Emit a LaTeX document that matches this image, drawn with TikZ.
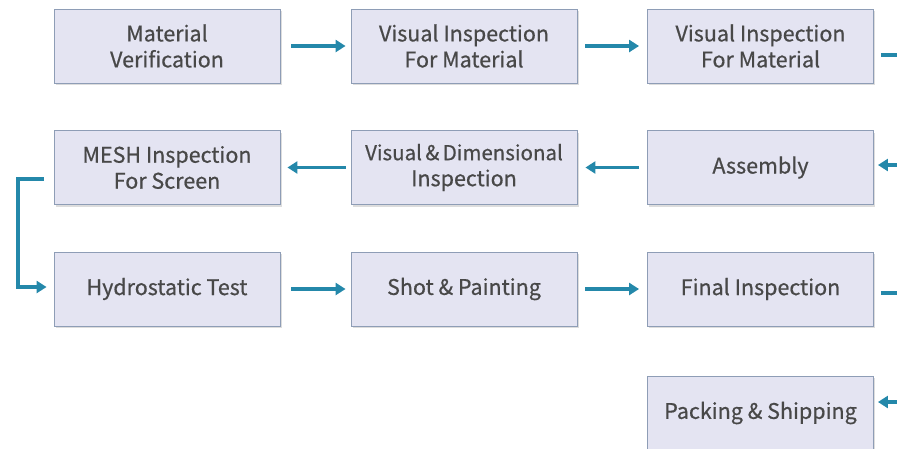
\documentclass[tikz,border=0pt]{standalone}
\usepackage{fontspec}
\setmainfont[FakeBold=0.6]{Noto Sans CJK KR}
\usetikzlibrary{shadows,arrows.meta,calc}
\definecolor{boxfill}{HTML}{E4E4F2}
\definecolor{boxline}{HTML}{8E9DB6}
\definecolor{arr}{HTML}{2488AA}
\definecolor{txt}{HTML}{484848}
\tikzset{
  stepbox/.style={draw=boxline, line width=0.9pt, fill=boxfill, minimum width=226pt, minimum height=74pt,
    inner sep=0pt, align=center, text=txt, font=\fontsize{21.5}{26}\selectfont,
    drop shadow={shadow xshift=1.5pt, shadow yshift=-2pt, opacity=0.22, fill=black!60}},
  flow/.style={draw=arr, line width=3.5pt, -{Triangle[length=10pt,width=12pt]}},
  flowline/.style={draw=arr, line width=3.5pt}
}
\begin{document}
\begin{tikzpicture}[x=1pt,y=-1pt]
\useasboundingbox (0,0) rectangle (897,448);
\begin{scope}
\clip (0,0) rectangle (897,448);
\node[stepbox] (a1) at (167,46) {Material\\Verification};
\node[stepbox] (a2) at (464,46) {Visual Inspection\\For Material};
\node[stepbox] (a3) at (760.5,46) {Visual Inspection\\For Material};
\node[stepbox] (b1) at (167,167.5) {MESH Inspection\\For Screen};
\node[stepbox] (b2) at (464,167.5) {\fontsize{20.5}{26}\selectfont Visual\,\&\,Dimensional\\Inspection};
\node[stepbox] (b3) at (760.5,167.5) {\raisebox{-2pt}{Assembly}};
\node[stepbox] (c1) at (167,289) {\raisebox{-2pt}{Hydrostatic Test}};
\node[stepbox] (c2) at (464,289) {\raisebox{-2pt}{Shot \& Painting}};
\node[stepbox] (c3) at (760.5,289) {\raisebox{-1pt}{Final Inspection}};
\node[stepbox] (d3) at (760.5,413) {Packing \& Shipping};

\draw[flow] ($(a1.east)+(11,0)$) -- ($(a2.west)+(-5,0)$);
\draw[flow] ($(a2.east)+(8,0)$) -- ($(a3.west)+(-8,0)$);
\coordinate (r1) at (920,55);
\coordinate (r2) at (920,165);
\draw[flowline] ($(a3.east)+(7,9)$) -- (r1);
\draw[flow] (r2) -- ($(b3.east)+(4,-2.5)$);

\draw[flow] ($(b3.west)+(-8,0)$) -- ($(b2.east)+(8,0)$);
\draw[flow] ($(b2.west)+(-5,0)$) -- ($(b1.east)+(7,0)$);

\coordinate (l1) at (18,179);
\coordinate (l2) at (18,287);
\draw[flow] ($(b1.west)+(-10,11.5)$) -- (l1) -- (l2) -- ($(c1.west)+(-7,-2)$);

\draw[flow] ($(c1.east)+(11,0)$) -- ($(c2.west)+(-5,0)$);
\draw[flow] ($(c2.east)+(8,0)$) -- ($(c3.west)+(-8,0)$);
\coordinate (r3) at (920,293);
\coordinate (r4) at (920,402);
\draw[flowline] ($(c3.east)+(7,4)$) -- (r3);
\draw[flow] (r4) -- ($(d3.east)+(4,-11)$);
\end{scope}
\end{tikzpicture}
\end{document}
